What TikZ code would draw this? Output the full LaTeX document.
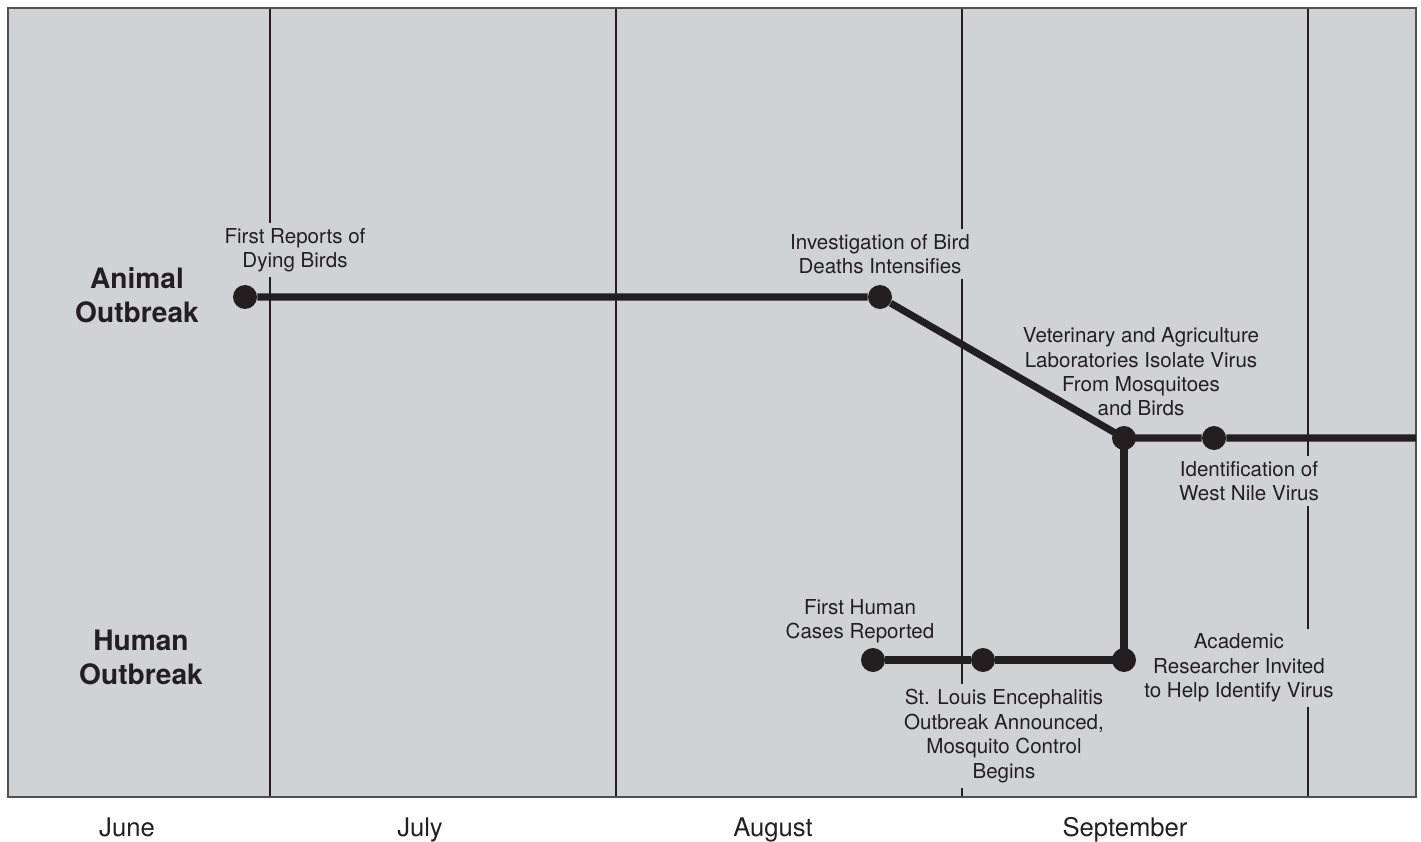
\documentclass[tikz,border=0pt]{standalone}
\usepackage{fontspec}
\setmainfont{TeX Gyre Heros}
\usetikzlibrary{calc,positioning}
\definecolor{panelgray}{RGB}{209,210,212}
\definecolor{ink}{RGB}{35,31,32}
\definecolor{framegray}{RGB}{80,80,80}
\tikzset{
  event/.style={fill=panelgray,inner sep=3pt,align=center,text=ink,
    font=\fontsize{11.7}{13.9}\selectfont},
  group/.style={align=center,text=ink,inner sep=0pt,
    font=\fontsize{16}{19.4}\selectfont\bfseries},
  month/.style={text=ink,inner sep=0pt,anchor=base,font=\fontsize{14.6}{17}\selectfont},
  dot/.style={circle,fill=ink,draw=none,inner sep=0pt,minimum size=0.48cm},
  track/.style={draw=ink,line width=4pt}
}

\begin{document}
\begin{tikzpicture}[x=0.02cm,y=-0.02cm]

  \useasboundingbox (0,0) rectangle (1421,842);

  \fill[panelgray] (8,8) rectangle (1416,797);
  \foreach \x in {270,616,962,1308}
  {
    \draw[ink,line width=0.8pt] (\x,8) -- (\x,797);
  }
  \draw[framegray,line width=1.2pt] (8,8) rectangle (1416,797);

  \foreach \x/\m in {127/June,420/July,773/August,1125/September}
  {
    \node[month] at(\x,836) (month_\m) {\m};
  }

  \node[group] at(137,295) (animal) {Animal\\Outbreak};
  \node[group] at(141,657) (human) {Human\\Outbreak};

  % event labels (filled, so they cut the month lines)
  \node[event] at(295,250) (lab_reports) {First Reports of\\Dying Birds};
  \node[event] at(880,254) (lab_invest) {Investigation of Bird\\Deaths Intensifies};
  \node[event] at(1141,372) (lab_labs) {Veterinary and Agriculture\\Laboratories Isolate Virus\\From Mosquitoes\\and Birds};
  \node[event] at(1249,481) (lab_wnv) {Identification of\\West Nile Virus};
  \node[event] at(860,621) (lab_human) {First Human\\Cases Reported};
  \node[event] at(1004,736) (lab_sle) {St. Louis Encephalitis\\Outbreak Announced,\\Mosquito Control\\Begins};
  \node[event] at(1239,668) (lab_academic) {Academic\\Researcher Invited\\to Help Identify Virus};

  % timeline
  \node[dot] at(245,297) (reports) {};
  \node[dot] at(880,297) (invest) {};
  \node[dot] at(1124,438) (labs) {};
  \node[dot] at(1214,438) (wnv) {};
  \node[dot] at(873,660) (human_cases) {};
  \node[dot] at(983,660) (sle) {};
  \node[dot] at(1124,660) (academic) {};
  \coordinate (track_end) at(1416,438);

  \draw[track] (reports) -- (invest) -- (labs.center) -- (wnv) -- (track_end);
  \draw[track] (human_cases) -- (sle) -- (academic.center) -- (labs.center);

\end{tikzpicture}
\end{document}
